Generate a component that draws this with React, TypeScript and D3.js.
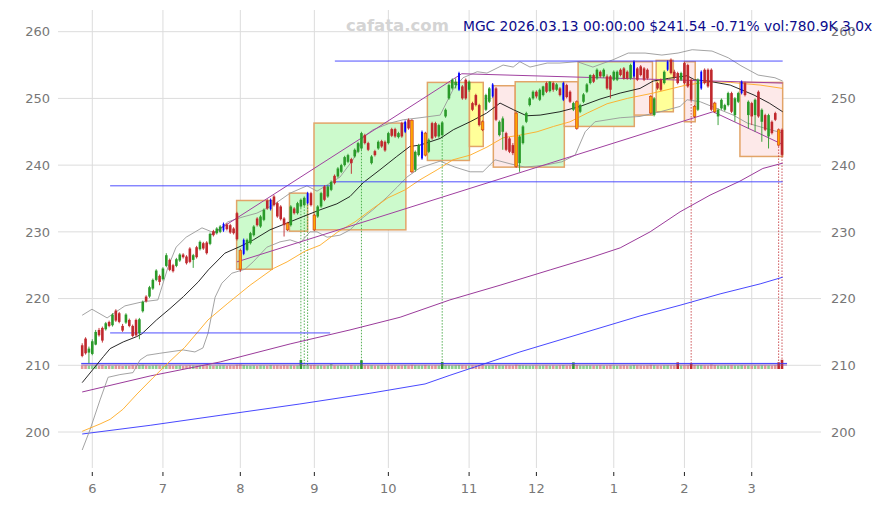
import React from 'react';
import * as d3 from 'd3';

const W = 882;
const H = 505;

const monthLabels = ['6', '7', '8', '9', '10', '11', '12', '1', '2', '3'];
const monthTickIdx = [3, 24, 47, 69, 91, 115, 135, 158, 179, 199];
const yTicks = [200, 210, 220, 230, 240, 250, 260];

const titleText = 'MGC 2026.03.13 00:00:00 $241.54 -0.71% vol:780.9K 3.0x';
const watermark = 'cafata.com';

// [open, high, low, close]
const ohlc: [number, number, number, number][] = [
  [213.0, 213.3, 211.2, 211.4], [214.0, 214.2, 211.6, 211.8], [211.9, 212.8, 210.3, 212.5], [211.7, 213.9, 211.5, 213.6],
  [213.1, 215.3, 213.0, 215.0], [215.3, 215.6, 214.3, 214.5], [215.6, 215.8, 213.4, 213.7], [215.4, 216.5, 215.2, 216.3],
  [216.5, 216.7, 215.7, 215.9], [216.0, 217.8, 215.8, 217.6], [218.2, 218.4, 216.5, 216.7], [217.8, 218.0, 216.3, 216.5],
  [215.9, 216.2, 215.0, 215.2], [216.4, 217.8, 216.2, 217.6], [216.8, 217.0, 215.7, 215.9], [215.9, 216.1, 214.2, 214.4],
  [216.8, 217.0, 214.3, 214.5], [214.8, 217.1, 213.9, 216.9], [218.1, 219.7, 217.9, 219.5], [220.3, 220.5, 219.4, 219.6],
  [220.3, 221.9, 220.1, 221.7], [221.5, 223.0, 221.3, 222.8], [222.8, 224.4, 222.6, 224.2], [223.4, 223.6, 222.0, 222.5],
  [222.9, 224.7, 222.7, 224.5], [224.9, 226.8, 224.7, 226.5], [225.8, 226.0, 224.1, 224.3], [225.0, 225.2, 223.9, 224.1],
  [224.9, 226.1, 224.7, 225.9], [225.7, 226.8, 225.5, 226.6], [226.6, 226.8, 226.0, 226.2], [226.3, 226.5, 225.1, 225.3],
  [227.5, 227.7, 225.3, 225.5], [225.8, 226.7, 224.6, 226.5], [227.7, 227.9, 226.0, 226.2], [227.4, 228.7, 227.2, 228.5],
  [228.3, 228.5, 227.3, 227.5], [228.4, 228.6, 226.6, 226.8], [228.2, 229.9, 228.0, 229.7], [230.1, 230.3, 229.3, 229.5],
  [229.8, 230.7, 229.6, 230.5], [230.0, 231.0, 229.8, 230.8], [230.2, 231.4, 230.0, 231.2], [231.1, 231.3, 230.2, 230.4],
  [231.0, 231.2, 229.7, 229.9], [230.5, 230.7, 229.6, 229.8], [232.8, 233.0, 228.7, 228.9], [227.2, 227.5, 224.0, 224.4],
  [226.7, 229.0, 226.5, 228.8], [227.3, 229.0, 227.1, 228.8], [228.3, 230.0, 228.1, 229.8], [229.5, 231.0, 229.3, 230.8],
  [232.0, 232.2, 230.8, 231.0], [230.8, 232.5, 230.6, 232.3], [231.8, 233.5, 231.6, 233.3], [234.7, 234.9, 233.3, 233.5],
  [233.4, 235.0, 233.2, 234.8], [235.3, 235.5, 233.8, 234.0], [234.3, 234.5, 232.1, 232.3], [233.8, 234.0, 231.7, 231.9],
  [232.0, 232.2, 229.3, 231.0], [231.3, 231.5, 230.1, 230.3], [231.0, 234.0, 230.8, 233.8], [233.5, 233.7, 232.6, 232.8],
  [232.8, 234.5, 232.6, 234.3], [233.8, 235.0, 233.6, 234.8], [234.0, 235.3, 233.8, 235.1], [234.3, 236.0, 234.1, 235.8],
  [235.8, 236.0, 233.8, 234.0], [232.5, 232.7, 230.1, 230.3], [232.3, 234.0, 232.1, 233.8], [233.8, 236.0, 233.6, 235.8],
  [236.8, 237.0, 234.6, 234.8], [235.3, 237.0, 235.1, 236.8], [236.3, 237.7, 236.1, 237.5], [238.4, 238.6, 237.1, 237.3],
  [238.3, 239.7, 238.1, 239.5], [239.0, 240.2, 238.8, 240.0], [240.0, 241.4, 239.8, 241.2], [240.5, 241.7, 240.3, 241.5],
  [240.9, 241.1, 238.7, 240.3], [241.3, 242.5, 241.1, 242.3], [242.0, 243.5, 241.8, 243.3], [242.5, 245.0, 242.3, 244.8],
  [244.5, 244.7, 243.1, 243.3], [243.3, 243.5, 242.1, 242.3], [240.3, 241.5, 240.1, 241.3], [242.1, 242.3, 241.3, 241.5],
  [242.5, 243.7, 242.3, 243.5], [243.6, 243.8, 242.6, 242.8], [243.5, 243.7, 242.0, 242.2], [243.3, 245.0, 243.1, 244.8],
  [245.4, 245.6, 244.2, 244.4], [245.4, 245.6, 244.1, 244.3], [244.2, 245.0, 244.0, 244.8], [246.3, 246.5, 244.1, 244.3],
  [245.0, 246.7, 244.8, 246.5], [246.8, 247.0, 245.3, 245.5], [246.7, 246.9, 238.8, 239.0], [239.3, 242.2, 239.0, 242.0],
  [241.5, 243.2, 241.3, 243.0], [241.0, 245.2, 240.8, 245.0], [244.8, 245.0, 241.3, 241.5], [242.0, 244.0, 241.8, 243.8],
  [246.3, 246.5, 243.8, 244.0], [246.3, 246.5, 244.1, 244.3], [244.3, 246.2, 244.1, 246.0], [244.5, 246.6, 244.2, 246.4],
  [247.3, 248.5, 247.1, 248.3], [250.0, 252.2, 249.8, 252.0], [251.5, 253.0, 251.3, 252.8], [252.0, 253.0, 251.5, 252.5],
  [251.3, 254.0, 251.1, 253.8], [251.8, 252.0, 249.8, 250.0], [252.8, 253.0, 249.8, 250.0], [251.3, 252.7, 251.0, 252.5],
  [249.3, 249.5, 248.1, 248.3], [250.5, 250.7, 248.8, 249.0], [249.0, 249.2, 245.8, 246.0], [246.5, 246.7, 245.1, 245.3],
  [248.3, 250.7, 248.1, 250.5], [249.5, 251.7, 249.3, 251.5], [250.3, 252.3, 250.1, 252.1], [251.5, 251.7, 246.6, 246.8],
  [244.5, 246.7, 244.3, 246.5], [245.0, 247.3, 242.3, 247.0], [244.8, 245.0, 242.1, 242.3], [244.0, 244.2, 241.8, 242.0],
  [243.0, 243.3, 241.5, 241.8], [247.8, 248.0, 239.6, 239.8], [240.3, 244.5, 239.0, 244.3], [243.3, 246.0, 243.1, 245.8],
  [246.5, 248.0, 246.3, 247.8], [249.0, 250.2, 248.8, 250.0], [250.0, 251.2, 249.8, 251.0], [251.0, 251.2, 250.0, 250.3],
  [249.8, 251.5, 249.6, 251.3], [250.5, 251.9, 250.3, 251.8], [252.3, 252.5, 250.8, 251.0], [251.1, 252.6, 250.9, 252.5],
  [252.3, 252.5, 251.0, 251.3], [251.3, 252.3, 251.1, 252.1], [251.5, 251.7, 250.3, 250.5], [249.8, 252.5, 249.6, 252.3],
  [252.0, 252.2, 250.0, 250.2], [251.0, 251.2, 249.3, 249.5], [248.3, 249.5, 248.1, 249.3], [249.5, 249.7, 245.3, 245.5],
  [248.0, 249.2, 247.8, 249.0], [249.5, 250.8, 249.3, 250.6], [251.0, 252.3, 250.8, 252.1], [252.3, 253.6, 252.1, 253.5],
  [253.5, 253.7, 252.3, 252.5], [253.0, 254.5, 252.8, 254.3], [254.0, 254.2, 253.1, 253.3], [253.3, 254.5, 253.1, 254.3],
  [253.3, 253.6, 251.3, 251.5], [253.3, 253.5, 250.0, 251.3], [252.8, 254.2, 252.6, 254.0], [252.8, 254.2, 252.6, 254.0],
  [254.3, 254.5, 253.3, 253.5], [254.5, 254.7, 252.8, 253.0], [254.0, 254.2, 252.8, 253.0], [253.0, 255.2, 252.8, 255.0],
  [253.3, 255.7, 253.1, 255.5], [254.5, 254.7, 252.6, 252.8], [254.8, 255.0, 253.3, 253.5], [254.5, 254.7, 252.6, 252.8],
  [254.3, 254.5, 252.8, 253.0], [250.3, 250.5, 247.6, 247.8], [247.5, 250.2, 247.3, 250.0], [252.3, 252.5, 251.3, 251.5],
  [252.8, 253.0, 251.1, 251.3], [252.3, 254.2, 252.1, 254.0], [254.3, 255.7, 254.1, 255.5], [255.8, 256.0, 253.6, 253.8],
  [254.0, 254.3, 252.9, 253.2], [253.8, 254.0, 252.1, 252.3], [252.8, 254.0, 252.6, 253.8], [255.3, 255.5, 252.1, 252.3],
  [255.0, 255.2, 251.6, 251.8], [252.8, 253.0, 249.6, 249.8], [248.8, 249.0, 247.1, 247.3], [248.3, 253.0, 248.1, 252.8],
  [251.5, 254.2, 251.3, 254.0], [254.3, 254.5, 252.1, 252.3], [254.3, 254.5, 251.6, 251.8], [254.3, 254.5, 248.1, 248.3],
  [249.3, 249.5, 247.8, 248.0], [247.3, 248.5, 246.0, 248.3], [248.5, 250.0, 248.3, 249.8], [248.3, 249.2, 248.1, 249.0],
  [249.0, 251.0, 248.8, 250.8], [250.8, 251.0, 247.8, 248.0], [247.5, 250.2, 246.5, 250.0], [249.5, 251.0, 249.3, 250.8],
  [250.8, 252.7, 250.6, 252.5], [252.3, 252.5, 250.3, 250.5], [247.5, 249.7, 245.5, 249.5], [249.3, 249.5, 246.0, 247.3],
  [247.5, 250.0, 245.0, 249.8], [251.0, 251.2, 247.1, 247.3], [246.5, 248.5, 243.5, 248.3], [247.5, 247.7, 245.1, 245.3],
  [244.3, 247.7, 242.5, 247.5], [246.5, 246.7, 244.6, 244.8], [247.8, 248.0, 246.6, 246.8], [245.3, 245.5, 242.8, 243.0],
  [245.3, 245.5, 241.3, 241.54],
];

const blueIdx = [42, 48, 56, 67, 96, 101, 112, 122, 143, 164, 174, 184, 196];
const orangeIdx = [47, 61, 69, 98, 102, 119, 129, 147, 169, 182, 188, 207];
const signalIdx = [65, 66, 67, 83, 107, 181, 207, 208];

// volume in thousands
const volume = [
  290, 310, 280, 300, 320, 270, 330, 260, 300, 280,
  310, 290, 270, 300, 280, 320, 300, 330, 360, 300,
  280, 300, 320, 290, 270, 310, 300, 280, 290, 300,
  270, 290, 310, 300, 280, 300, 290, 310, 300, 280,
  290, 300, 310, 280, 300, 290, 360, 380, 330, 300,
  290, 300, 280, 310, 300, 290, 330, 300, 310, 290,
  320, 300, 310, 290, 300, 760, 330, 320, 330, 340,
  300, 310, 290, 300, 420, 300, 290, 310, 300, 290,
  330, 300, 290, 740, 310, 300, 320, 290, 300, 310,
  300, 290, 310, 300, 290, 310, 330, 300, 350, 320,
  300, 310, 340, 300, 290, 310, 300, 600, 320, 310,
  300, 320, 330, 310, 300, 290, 310, 300, 320, 330,
  300, 290, 320, 340, 310, 300, 320, 310, 300, 360,
  330, 310, 300, 290, 300, 310, 290, 300, 310, 290,
  300, 290, 310, 330, 300, 310, 560, 340, 300, 290,
  310, 300, 290, 300, 310, 290, 300, 320, 300, 290,
  300, 310, 290, 300, 330, 310, 300, 290, 310, 350,
  320, 300, 290, 310, 320, 310, 300, 560, 300, 310,
  320, 480, 340, 320, 330, 310, 300, 380, 330, 300,
  290, 300, 310, 320, 300, 290, 330, 310, 300, 290,
  310, 300, 320, 310, 300, 290, 320, 560, 781,
];
const volAvgA = 470;
const volAvgB = 340;

// indicator lines, [bar index, price]
const ma20: [number, number][] = [
  [0, 207.4], [6.3, 211.3], [8.3, 212.5], [12.2, 213.5], [16.2, 214.3], [17.7, 214.7], [22.1, 216.8], [26.1, 218.5],
  [30.1, 220.3], [34.5, 222.5], [37.5, 224.3], [42.4, 226.8], [46.9, 227.8], [50.9, 228.8], [55.8, 230.3], [60.8, 231.3],
  [65.7, 232.3], [70.7, 233.3], [75.7, 234.2], [79.6, 235.3], [83.6, 237.4], [88.5, 239.3], [93.5, 241.3], [97.4, 242.8],
  [100.4, 243.0], [106.4, 244.0], [110.3, 245.3], [115.3, 246.5], [120.2, 247.8], [124.2, 249.3], [128.2, 248.3], [132.1, 247.4],
  [136.1, 247.5], [142.0, 248.0], [148.0, 248.8], [153.9, 249.9], [159.9, 250.8], [165.8, 251.5], [169.7, 252.6], [174.2, 253.0],
  [179.8, 253.4], [182, 252.8], [186, 252.6], [192.6, 252.0], [199.7, 250.5], [204.2, 249.3], [208.2, 248.0],
];
const ma50: [number, number][] = [
  [0, 200.1], [5.3, 201.2], [8.3, 201.9], [12.1, 203.4], [16.3, 205.7], [21, 208.1], [24.6, 209.9], [30.5, 212.7],
  [37.4, 216.8], [43.3, 219.3], [49.9, 222.0], [56.8, 224.5], [60.9, 225.5], [66.2, 227.1], [70.7, 228.0], [76.0, 230.0],
  [81.1, 231.5], [86.1, 233.4], [90.9, 235.1], [96.0, 236.3], [100.4, 237.8], [105.5, 239.3], [110.2, 240.8], [115.3, 241.5],
  [120.3, 242.7], [125.1, 244.1], [130.1, 244.5], [135.2, 245.0], [140.1, 245.8], [145.0, 246.5], [150.1, 247.8], [156.0, 249.2],
  [162.0, 250.0], [169.7, 250.8], [174.7, 251.4], [179.5, 252.0], [183.6, 252.3], [187.5, 252.5], [192.6, 252.4], [197.0, 252.2],
  [201.5, 252.0], [208.2, 251.5],
];
const bandUpper: [number, number][] = [
  [0, 217.5], [2.9, 218.4], [7.4, 217.1], [12.7, 218.9], [17.8, 219.5], [22.5, 219.8], [25.5, 224.7], [27.9, 227.7],
  [30.9, 229.2], [35.6, 230.6], [39.5, 229.8], [43.3, 231.5], [47.5, 232.2], [51.9, 232.8], [56.7, 234.0], [61.8, 235.8],
  [66.8, 236.9], [69.8, 236.1], [73.7, 237.3], [76.6, 238.2], [80.5, 240.8], [83.5, 244.2], [86.4, 245.3], [91.5, 246.3],
  [95.4, 246.8], [100.4, 247.1], [106.4, 247.5], [110.2, 251.3], [113.2, 253.1], [117.4, 254.0], [120.3, 253.8], [125.1, 255.0],
  [128.1, 254.7], [130.1, 255.5], [133.1, 254.7], [138.2, 255.3], [142.0, 255.3], [147.1, 255.5], [151.8, 254.7], [157.8, 255.8],
  [162.3, 256.8], [167.3, 256.8], [172.3, 256.5], [177.1, 256.8], [181.3, 257.3], [187.2, 257.1], [192.0, 256.1], [195.8, 254.9],
  [200.9, 253.5], [205.9, 253.1], [208.2, 252.6],
];
const bandLower: [number, number][] = [
  [0, 197.3], [2.3, 200.3], [5.3, 204.8], [7.7, 208.2], [11.2, 208.6], [15.1, 208.9], [17.2, 210.8], [19.3, 211.5],
  [23.1, 211.8], [30.0, 212.3], [33.5, 212.0], [35.9, 212.6], [37.4, 214.8], [39.5, 220.2], [41.5, 222.3], [44.5, 223.8],
  [48.4, 224.4], [50.8, 225.5], [54.9, 227.7], [58.8, 228.5], [61.8, 228.8], [64.7, 228.3], [67.7, 230.0], [69.8, 230.0],
  [72.8, 229.2], [76.6, 229.5], [79.6, 230.3], [82.6, 231.8], [86.4, 233.3], [90.6, 235.2], [93.6, 236.7], [96.5, 238.2],
  [100.4, 239.6], [106.4, 240.6], [110.8, 239.7], [115.3, 239.0], [119.1, 239.0], [122.7, 240.8], [127.2, 240.2], [131.6, 239.7],
  [137.6, 240.0], [142.6, 240.5], [146.5, 241.5], [149.5, 245.0], [152.4, 246.5], [159.9, 247.1], [165.8, 247.3], [171.8, 248.0],
  [177.7, 248.8], [179.8, 249.8], [183.7, 249.5], [189.6, 248.3], [193.5, 247.5], [197.7, 246.3], [202.5, 245.6], [208.2, 244.8],
];
const ma100: [number, number][] = [
  [0, 206.0], [20.2, 208.4], [41.0, 210.5], [61.8, 213.2], [79.6, 215.3], [94.5, 217.2], [109.3, 219.8], [124.2, 222.0],
  [139.1, 224.3], [150.9, 226.1], [159.9, 227.6], [168.8, 230.0], [177.7, 233.0], [186.6, 235.5], [195.5, 237.6], [202.3, 239.5],
  [208.2, 240.3],
];
const ma200: [number, number][] = [
  [0, 199.7], [20.2, 201.0], [41.0, 202.5], [64.7, 204.2], [85.5, 205.8], [101.9, 207.2], [109.3, 208.5], [118.2, 210.0],
  [130.1, 212.0], [142.0, 213.8], [153.9, 215.6], [165.8, 217.4], [177.7, 219.0], [189.6, 220.7], [201.5, 222.2], [208.2, 223.2],
];

// trend lines [i1, v1, i2, v2]
const trendLines: [number, number, number, number][] = [
  [38.0, 229.5, 112.8, 253.7],
  [46.0, 225.5, 187.5, 248.0],
  [112.8, 253.7, 208.2, 252.3],
  [187.5, 248.0, 208.2, 243.1],
];
// horizontal levels [i1, i2, v]
const levels: [number, number, number][] = [
  [75.1, 208.2, 255.6],
  [8.3, 74.3, 236.9],
  [75.1, 208.2, 237.5],
  [8.3, 73.7, 214.85],
];

// boxes [iStart, iEnd, top, bottom, kind]
const boxes: [number, number, number, number, string][] = [
  [45.9, 56.5, 234.7, 224.4, 'g'],
  [61.6, 67.0, 235.8, 230.1, 'g'],
  [68.9, 96.2, 246.3, 230.3, 'g'],
  [102.6, 115.1, 252.4, 240.7, 'g'],
  [115.1, 119.2, 252.4, 242.8, 'y'],
  [122.2, 128.7, 251.9, 239.7, 'p'],
  [128.7, 143.3, 252.5, 239.7, 'g'],
  [143.3, 147.4, 252.5, 245.8, 'p'],
  [147.4, 164.1, 255.5, 245.8, 'g'],
  [164.1, 169.5, 255.5, 247.5, 'p'],
  [170.6, 175.7, 255.7, 248.0, 'y'],
  [179.0, 182.2, 255.5, 246.5, 'p'],
  [195.5, 208.2, 252.4, 241.3, 'p'],
];

const boxFill: Record<string, string> = { g: '#ccfacc', p: '#fde9e9', y: '#ffff99' };

const GREEN = '#2a9a2a';
const RED = '#c0282d';
const FONT = 'DejaVu Sans, sans-serif';

export default function App() {
  const x = d3.scaleLinear().domain([0, 208]).range([82.2, 782.0]);
  const y = d3.scaleLinear().domain([200, 260]).range([432.0, 31.7]);
  const volH = d3.scaleLinear().domain([0, 800]).range([0, 9.5]);
  const volBase = 369;

  const line = d3
    .line<[number, number]>()
    .x((d) => x(d[0]))
    .y((d) => y(d[1]));

  const bw = 2.6;

  return (
    <svg
      width={W}
      height={H}
      style={{ position: 'absolute', left: 0, top: 0, background: '#fff' }}
      fontFamily={FONT}
    >
      <rect x={0} y={0} width={W} height={H} fill="#fff" />
      {/* grid */}
      {yTicks.map((t) => (
        <line key={'gy' + t} x1={58} x2={821} y1={y(t)} y2={y(t)} stroke="#dcdcdc" strokeWidth={1} />
      ))}
      {monthTickIdx.map((t, k) => (
        <line key={'gx' + k} x1={x(t)} x2={x(t)} y1={10} y2={468} stroke="#dcdcdc" strokeWidth={1} />
      ))}
      {/* boxes */}
      {boxes.map((b, k) => (
        <rect
          key={'b' + k}
          x={x(b[0])}
          y={y(b[2])}
          width={x(b[1]) - x(b[0])}
          height={y(b[3]) - y(b[2])}
          fill={boxFill[b[4]]}
          stroke="#e2a468"
          strokeWidth={1.5}
        />
      ))}
      {/* volume */}
      {volume.map((v, i) => {
        const c = ohlc[i];
        const up = c[3] >= c[0];
        const spike = v > 450;
        const fill = spike ? (up ? GREEN : RED) : up ? '#8fcf8f' : '#e09a9a';
        return (
          <rect
            key={'v' + i}
            x={x(i) - bw / 2}
            y={volBase - volH(v)}
            width={bw}
            height={volH(v)}
            fill={fill}
          />
        );
      })}
      <line x1={x(-0.3)} x2={x(209.5)} y1={volBase - volH(volAvgA)} y2={volBase - volH(volAvgA)} stroke="#3b3bff" strokeWidth={1} />
      <line x1={x(-0.3)} x2={x(209.5)} y1={volBase - volH(volAvgB)} y2={volBase - volH(volAvgB)} stroke="#8a4a9a" strokeWidth={0.8} />
      {/* signal dotted lines */}
      {signalIdx.map((i) => {
        const c = ohlc[i];
        const up = c[3] >= c[0];
        return (
          <line
            key={'s' + i}
            x1={x(i)}
            x2={x(i)}
            y1={y(c[2])}
            y2={volBase - 3}
            stroke={up ? GREEN : RED}
            strokeWidth={0.8}
            strokeDasharray="1.5,1.5"
          />
        );
      })}
      {/* indicator lines */}
      <path d={line(ma200) || ''} fill="none" stroke="#3333ff" strokeWidth={0.9} />
      <path d={line(ma100) || ''} fill="none" stroke="#9b3b9b" strokeWidth={1} />
      <path d={line(bandUpper) || ''} fill="none" stroke="#999" strokeWidth={0.9} />
      <path d={line(bandLower) || ''} fill="none" stroke="#999" strokeWidth={0.9} />
      <path d={line(ma50) || ''} fill="none" stroke="#ffaa22" strokeWidth={0.9} />
      <path d={line(ma20) || ''} fill="none" stroke="#111" strokeWidth={0.9} />
      {trendLines.map((t, k) => (
        <line key={'t' + k} x1={x(t[0])} y1={y(t[1])} x2={x(t[2])} y2={y(t[3])} stroke="#a040a0" strokeWidth={1} />
      ))}
      {levels.map((l, k) => (
        <line key={'l' + k} x1={x(l[0])} x2={x(l[1])} y1={y(l[2])} y2={y(l[2])} stroke="#3b3bff" strokeWidth={0.9} />
      ))}
      {/* candles */}
      {ohlc.map((c, i) => {
        const [o, h, l, cl] = c;
        const up = cl >= o;
        const isBlue = blueIdx.includes(i);
        const isOrange = orangeIdx.includes(i);
        const col = isBlue ? '#0000ff' : isOrange ? RED : up ? GREEN : RED;
        const top = y(Math.max(o, cl));
        const bh = Math.max(1, Math.abs(y(o) - y(cl)));
        const w = isBlue ? 1.8 : bw;
        return (
          <g key={'c' + i}>
            <line x1={x(i)} x2={x(i)} y1={y(h)} y2={y(l)} stroke={col} strokeWidth={0.9} />
            <rect
              x={x(i) - w / 2}
              y={top}
              width={w}
              height={bh}
              fill={isOrange ? '#ffa500' : col}
              stroke={isOrange ? '#d04a20' : 'none'}
              strokeWidth={isOrange ? 0.7 : 0}
            />
          </g>
        );
      })}
      {/* axes labels */}
      {yTicks.map((t) => (
        <text key={'ly' + t} x={50} y={y(t)} dy="0.36em" textAnchor="end" fontSize={13} fill="#777">
          {t}
        </text>
      ))}
      {yTicks.map((t) => (
        <text key={'ry' + t} x={831} y={y(t)} dy="0.36em" textAnchor="start" fontSize={13} fill="#777">
          {t}
        </text>
      ))}
      {monthTickIdx.map((t, k) => (
        <g key={'mx' + k}>
          <line x1={x(t)} x2={x(t)} y1={472} y2={476} stroke="#222" strokeWidth={1} />
          <text x={x(t)} y={493} textAnchor="middle" fontSize={13} fill="#777">
            {monthLabels[k]}
          </text>
        </g>
      ))}
      <text x={346} y={31} fontSize={16.5} fontWeight="bold" fill="#d4d4d4">
        {watermark}
      </text>
      <text x={463} y={31} fontSize={13.8} fill="#0c0c8c">
        {titleText}
      </text>
    </svg>
  );
}
